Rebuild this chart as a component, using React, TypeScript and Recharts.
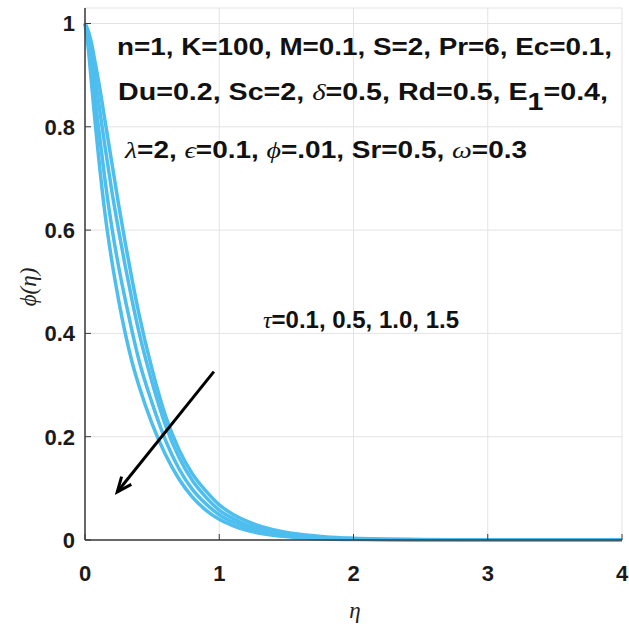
import React from 'react';
import { LineChart, Line, XAxis, YAxis, CartesianGrid, ReferenceLine } from 'recharts';

// eta grid and phi(eta), one array per tau value
const etas = [0, 0.025, 0.05, 0.075, 0.1, 0.15, 0.2, 0.25, 0.3, 0.35, 0.4, 0.5, 0.6, 0.7, 0.8, 0.9, 1.0, 1.1, 1.2, 1.4, 1.6, 1.8, 2.0, 2.5, 3, 4];
const tau01 = [1, 0.985, 0.96, 0.925, 0.89, 0.81, 0.73, 0.65, 0.575, 0.505, 0.44, 0.33, 0.24, 0.175, 0.128, 0.095, 0.068, 0.05, 0.037, 0.02, 0.011, 0.006, 0.0035, 0.001, 0.0002, 0];
const tau05 = [1, 0.975, 0.94, 0.895, 0.85, 0.76, 0.675, 0.6, 0.53, 0.465, 0.405, 0.305, 0.222, 0.16, 0.115, 0.083, 0.058, 0.042, 0.03, 0.016, 0.0085, 0.0045, 0.0025, 0.0006, 0.0001, 0];
const tau10 = [1, 0.965, 0.915, 0.855, 0.8, 0.695, 0.605, 0.53, 0.465, 0.405, 0.35, 0.265, 0.193, 0.138, 0.098, 0.07, 0.049, 0.035, 0.025, 0.012, 0.0065, 0.0033, 0.0018, 0.0004, 0, 0];
const tau15 = [1, 0.95, 0.88, 0.81, 0.745, 0.63, 0.54, 0.465, 0.4, 0.345, 0.3, 0.225, 0.165, 0.118, 0.083, 0.058, 0.04, 0.028, 0.019, 0.009, 0.0045, 0.002, 0.001, 0.0002, 0, 0];

const xTicks = [0, 1, 2, 3, 4];
const yTicks = [0, 0.2, 0.4, 0.6, 0.8, 1];

// arrow annotation (data coords), pointing towards increasing tau
const arrowFrom = { x: 0.96, y: 0.326 };
const arrowTo = { x: 0.24, y: 0.093 };

const data = etas.map((eta, i) => ({
  eta,
  t1: tau01[i],
  t2: tau05[i],
  t3: tau10[i],
  t4: tau15[i],
}));

const LINE = '#4DBEEE';
const AXIS = '#3a3a3a';
const sans = '"Liberation Sans", Arial, sans-serif';
const serif = '"Liberation Serif", "DejaVu Serif", serif';

const BottomTick = (props: any) => {
  const { x, y, payload } = props;
  return (
    <g>
      <line x1={x} y1={y - 10} x2={x} y2={y - 16} stroke={AXIS} strokeWidth={1} />
      <text x={x} y={y + 31} textAnchor="middle" fontFamily={sans} fontWeight="bold" fontSize={22} fill="#1a1a1a">
        {payload.value}
      </text>
    </g>
  );
};

const LeftTick = (props: any) => {
  const { x, y, payload } = props;
  return (
    <g>
      <line x1={x + 10} y1={y} x2={x + 16} y2={y} stroke={AXIS} strokeWidth={1} />
      <text x={x} y={y + 8} textAnchor="end" fontFamily={sans} fontWeight="bold" fontSize={22} fill="#1a1a1a">
        {payload.value}
      </text>
    </g>
  );
};

const TopTick = (props: any) => {
  const { x, y } = props;
  return <line x1={x} y1={y} x2={x} y2={y + 6} stroke={AXIS} strokeWidth={1} />;
};

const RightTick = (props: any) => {
  const { x, y } = props;
  return <line x1={x} y1={y} x2={x - 6} y2={y} stroke={AXIS} strokeWidth={1} />;
};

const Arrow = (props: any) => {
  const { x1, y1, x2, y2 } = props;
  const a = Math.atan2(y2 - y1, x2 - x1);
  const len = 16;
  const spread = 0.4;
  const bx1 = x2 - len * Math.cos(a - spread);
  const by1 = y2 - len * Math.sin(a - spread);
  const bx2 = x2 - len * Math.cos(a + spread);
  const by2 = y2 - len * Math.sin(a + spread);
  return (
    <g>
      <line x1={x1} y1={y1} x2={x2} y2={y2} stroke="#000" strokeWidth={3} />
      <polyline points={`${bx1},${by1} ${x2},${y2} ${bx2},${by2}`} fill="none" stroke="#000" strokeWidth={3} />
    </g>
  );
};

const greek: React.CSSProperties = { fontFamily: serif, fontStyle: 'italic', fontWeight: 'normal' };

export default function App() {
  return (
    <div style={{ position: 'relative', width: 629, height: 635, background: '#fff' }}>
      <style>{'body{margin:0}'}</style>
      <LineChart width={629} height={635} data={data} margin={{ top: 8, right: 7, bottom: 0, left: 0 }}>
        <CartesianGrid stroke="#e3e3e3" strokeWidth={1} />
        <XAxis
          dataKey="eta"
          type="number"
          domain={[0, 4]}
          ticks={xTicks}
          height={95}
          tickSize={0}
          tickMargin={10}
          tickLine={false}
          axisLine={{ stroke: AXIS, strokeWidth: 1.5 }}
          tick={<BottomTick />}
        />
        <XAxis
          xAxisId="top"
          orientation="top"
          dataKey="eta"
          type="number"
          domain={[0, 4]}
          ticks={xTicks}
          height={0}
          tickSize={0}
          tickLine={false}
          axisLine={{ stroke: AXIS, strokeWidth: 1.5 }}
          tick={<TopTick />}
        />
        <YAxis
          type="number"
          domain={[0, 1.03]}
          ticks={yTicks}
          width={85}
          tickSize={0}
          tickMargin={10}
          tickLine={false}
          axisLine={{ stroke: AXIS, strokeWidth: 1.5 }}
          tick={<LeftTick />}
        />
        <YAxis
          yAxisId="right"
          orientation="right"
          type="number"
          domain={[0, 1.03]}
          ticks={yTicks}
          width={0}
          tickSize={0}
          tickLine={false}
          axisLine={{ stroke: AXIS, strokeWidth: 1.5 }}
          tick={<RightTick />}
        />
        <Line type="monotone" dataKey="t1" stroke={LINE} strokeWidth={3.5} dot={false} isAnimationActive={false} />
        <Line type="monotone" dataKey="t2" stroke={LINE} strokeWidth={3.5} dot={false} isAnimationActive={false} />
        <Line type="monotone" dataKey="t3" stroke={LINE} strokeWidth={3.5} dot={false} isAnimationActive={false} />
        <Line type="monotone" dataKey="t4" stroke={LINE} strokeWidth={3.5} dot={false} isAnimationActive={false} />
        <ReferenceLine segment={[arrowFrom, arrowTo]} ifOverflow="visible" shape={<Arrow />} />
      </LineChart>
      <svg width={629} height={635} style={{ position: 'absolute', left: 0, top: 0, pointerEvents: 'none' }}>
        <g fontFamily={sans} fontWeight="bold" fontSize={23} fill="#111">
          <text x={117} y={55} textLength={495} lengthAdjust="spacingAndGlyphs">
            n=1, K=100, M=0.1, S=2,  Pr=6, Ec=0.1,
          </text>
          <text x={118} y={100} textLength={490} lengthAdjust="spacingAndGlyphs">
            Du=0.2, Sc=2, <tspan style={greek}>δ</tspan>=0.5, Rd=0.5, E<tspan dy={10}>1</tspan>
            <tspan dy={-10}>=0.4,</tspan>
          </text>
          <text x={125} y={158} textLength={402} lengthAdjust="spacingAndGlyphs">
            <tspan style={greek}>λ</tspan>=2, <tspan style={greek}>ϵ</tspan>=0.1, <tspan style={greek}>ϕ</tspan>=.01, Sr=0.5,   <tspan style={greek}>ω</tspan>=0.3
          </text>
          <text x={263} y={328} textLength={196} lengthAdjust="spacingAndGlyphs">
            <tspan style={greek}>τ</tspan>=0.1, 0.5, 1.0, 1.5
          </text>
        </g>
        <text x={0} y={0} transform="translate(36,287) rotate(-90)" textAnchor="middle" fontFamily={serif} fontStyle="italic" fontSize={23} fill="#222">
          ϕ(η)
        </text>
        <text x={355} y={618} textAnchor="middle" fontFamily={serif} fontStyle="italic" fontSize={23} fill="#222">
          η
        </text>
      </svg>
    </div>
  );
}
